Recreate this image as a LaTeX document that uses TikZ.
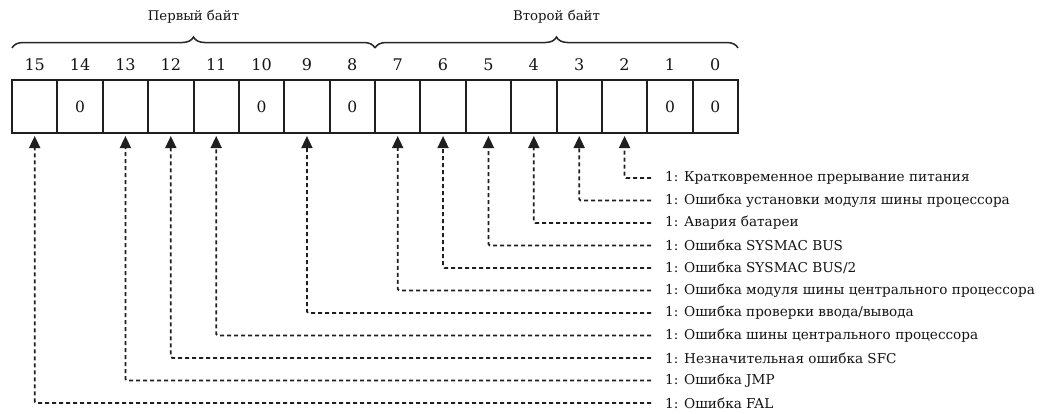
\documentclass[tikz,border=0pt]{standalone}
\usepackage{fontspec}
\setmainfont{DejaVu Serif}
\usetikzlibrary{arrows.meta,decorations.pathreplacing}
\begin{document}
\begin{tikzpicture}[x=1pt,y=1pt,
  cell/.style={draw=black!88, line width=2pt, minimum width=45.375pt, minimum height=53pt, inner sep=0pt, font=\fontsize{15.5}{17}\selectfont, text=black!92},
  bitnum/.style={font=\fontsize{16}{18}\selectfont, inner sep=0pt, text=black!92},
  lbl/.style={anchor=west, inner sep=0pt, font=\fontsize{13.6}{15}\selectfont, text=black!92},
  ttl/.style={inner sep=0pt, font=\fontsize{13.3}{15}\selectfont, text=black!92},
  brc/.style={draw=black!85, line width=1.5pt, decorate, decoration={brace, amplitude=11pt}},
  conn/.style={draw=black!88, line width=1.7pt, dash pattern=on 4pt off 3pt, rounded corners=1.5pt, -{Triangle[length=12pt,width=11pt]}, shorten >=2pt, shorten <=14pt}
]
\useasboundingbox (0,0) rectangle (1044,-413);
\foreach \b/\t in {15/,14/0,13/,12/,11/,10/0,9/,8/0,7/,6/,5/,4/,3/,2/,1/0,0/0} {
  \pgfmathsetmacro\cx{12+45.375*(15-\b+0.5)}
  \node[cell] (c\b) at (\cx,-106.5) {\t};
  \node[bitnum] (n\b) at (\cx,-65) {\b};
}
\coordinate (b1s) at (12,-48);
\coordinate (b1e) at (375,-48);
\coordinate (b2e) at (738,-48);
\draw[brc] (b1s) -- (b1e);
\draw[brc] (b1e) -- (b2e);
\node[ttl] (t1) at (193.5,-17) {Первый байт};
\node[ttl] (t2) at (556.5,-17) {Второй байт};

\foreach \k/\b/\t in {
  0/2/{1: Кратковременное прерывание питания},
  1/3/{1: Ошибка установки модуля шины процессора},
  2/4/{1: Авария батареи},
  3/5/{1: Ошибка SYSMAC BUS},
  4/6/{1: Ошибка SYSMAC BUS/2},
  5/7/{1: Ошибка модуля шины центрального процессора},
  6/9/{1: Ошибка проверки ввода/вывода},
  7/11/{1: Ошибка шины центрального процессора},
  8/12/{1: Незначительная ошибка SFC},
  9/13/{1: Ошибка JMP},
  10/15/{1: Ошибка FAL}} {
  \node[lbl] (l\k) at (665,{-178-22.5*\k}) {\t};
  \draw[conn] (l\k.west) -| (c\b.south);
}
\end{tikzpicture}
\end{document}
